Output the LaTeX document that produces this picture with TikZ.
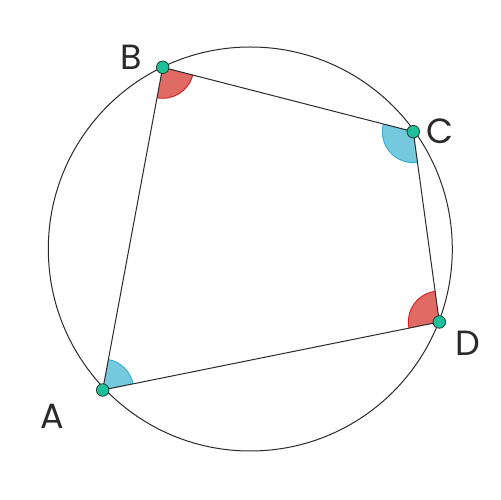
\documentclass[tikz,border=0pt]{standalone}
\usepackage{fontspec}
\setmainfont{Poppins}
\usetikzlibrary{angles}
\definecolor{redfill}{HTML}{E06A64}
\definecolor{rededge}{HTML}{D21F1F}
\definecolor{bluefill}{HTML}{74C9DD}
\definecolor{blueedge}{HTML}{33ADD6}
\definecolor{dotfill}{HTML}{1EC09B}
\definecolor{dotedge}{HTML}{1F3A33}
\definecolor{linec}{HTML}{2A2A2A}
\begin{document}
\begin{tikzpicture}[x=1pt,y=1pt,
  edge/.style={draw=linec,line width=1pt},
  redang/.style={fill=redfill,draw=rededge,line width=0.9pt,angle radius=31pt},
  blueang/.style={fill=bluefill,draw=blueedge,line width=0.9pt,angle radius=31pt},
  dot/.style={circle,fill=dotfill,draw=dotedge,line width=0.8pt,minimum size=12.5pt,inner sep=0pt},
  lbl/.style={inner sep=0pt,font=\fontsize{35}{35}\selectfont,text=linec}]
\useasboundingbox (0,0) rectangle (501,500);
\coordinate (O) at (250.3,251);
\coordinate (A) at (102.7,110);
\coordinate (B) at (162.7,432.7);
\coordinate (C) at (413.3,368.3);
\coordinate (D) at (439.3,178);
\pic[redang] {angle = A--B--C};
\pic[blueang] {angle = B--C--D};
\pic[redang] {angle = C--D--A};
\pic[blueang] {angle = D--A--B};
\draw[edge] (O) circle (202);
\draw[edge] (A) -- (B) -- (C) -- (D) -- cycle;
\node[dot] (a) at (A) {};
\node[dot] (b) at (B) {};
\node[dot] (c) at (C) {};
\node[dot] (d) at (D) {};
\node[lbl] (la) at (52,83.5) {A};
\node[lbl] (lb) at (131.7,443) {B};
\node[lbl] (lc) at (440,368.5) {C};
\node[lbl] (ld) at (468,157) {D};
\end{tikzpicture}
\end{document}
